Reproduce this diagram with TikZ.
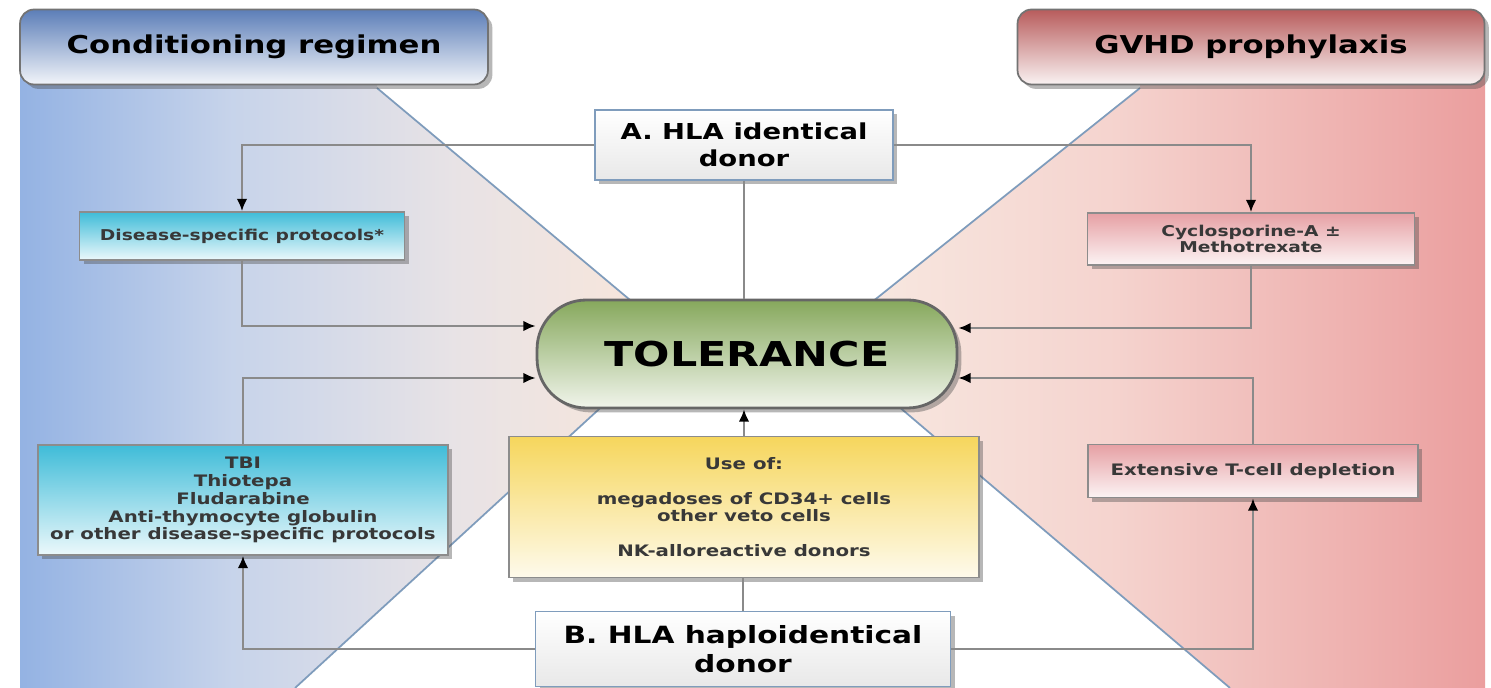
\documentclass[tikz,border=0pt]{standalone}
\usepackage{fontspec}
\setmainfont{DejaVu Sans}
\newfontfamily\widesans[FakeStretch=1.25]{DejaVu Sans}
\usetikzlibrary{positioning,calc,shadows,arrows.meta}
\definecolor{edgeblue}{HTML}{7F9CBC}
\definecolor{headblue}{HTML}{5C7EB8}
\definecolor{headred}{HTML}{B85C5C}
\definecolor{boxcyan}{HTML}{3FBCD8}
\definecolor{boxpink}{HTML}{E6A0A4}
\definecolor{boxyellow}{HTML}{F6D65C}
\definecolor{tolgreen}{HTML}{86A85C}
\definecolor{linegray}{HTML}{8A8A8A}
\pgfdeclarehorizontalshading{leftpanel}{100bp}{rgb(0bp)=(0.58,0.70,0.89); rgb(25bp)=(0.58,0.70,0.89);
  rgb(42bp)=(0.78,0.83,0.92); rgb(60bp)=(0.91,0.89,0.90); rgb(75bp)=(0.97,0.90,0.86); rgb(100bp)=(0.97,0.90,0.86)}
\pgfdeclarehorizontalshading{rightpanel}{100bp}{rgb(0bp)=(0.97,0.91,0.88); rgb(25bp)=(0.97,0.91,0.88);
  rgb(45bp)=(0.96,0.83,0.81); rgb(75bp)=(0.92,0.62,0.62); rgb(100bp)=(0.92,0.62,0.62)}
\tikzset{softshadow/.style={drop shadow={shadow xshift=2.5pt,shadow yshift=-2.5pt,opacity=.4,fill=black!70}},
         header/.style={draw=black!55,line width=1pt,rounded corners=8pt,minimum height=1.5cm,inner sep=0pt,
                        font=\widesans\bfseries\fontsize{14}{16}\selectfont,softshadow},
         donor/.style={draw=edgeblue,line width=1pt,top color=white,bottom color=black!9,inner sep=0pt,align=center,
                       font=\widesans\bfseries\fontsize{12.5}{15.5}\selectfont,softshadow},
         smallbox/.style={draw=black!45,line width=1pt,inner sep=0pt,align=center,text=black!78,
                          font=\widesans\bfseries\fontsize{8.5}{9.6}\selectfont,softshadow},
         cyanbox/.style={smallbox,top color=boxcyan,bottom color=boxcyan!10},
         pinkbox/.style={smallbox,top color=boxpink,bottom color=boxpink!12},
         yellowbox/.style={smallbox,top color=boxyellow,bottom color=boxyellow!12},
         tolerance/.style={draw=black!60,line width=1.6pt,rounded corners=28pt,top color=tolgreen,bottom color=tolgreen!12,
                           minimum width=8.4cm,minimum height=2.16cm,inner sep=0pt,
                           font=\widesans\bfseries\fontsize{19.5}{22}\selectfont,softshadow},
         paneledge/.style={draw=edgeblue,line width=1pt},
         line/.style={draw=linegray,line width=1.2pt}
}
\tikzstyle{arrow} = [line,-{Latex[length=7pt,width=6pt,color=black]}]

\begin{document}
\begin{tikzpicture}[x=0.02cm,y=-0.02cm]

\fill[white] (0,0) rectangle (1491,688);
\useasboundingbox (0,0) rectangle (1491,688);

\shade[shading=leftpanel] (20,40) -- (377,40) -- (377,88) -- (642,310) -- (609,400) -- (295,688) -- (20,688) -- cycle;
\shade[shading=rightpanel] (1140,40) -- (1485,40) -- (1485,688) -- (1230,688) -- (891,400) -- (862,310) -- (1140,88) -- cycle;
\draw[paneledge] (377,88) -- (642,310);
\draw[paneledge] (609,400) -- (295,688);
\draw[paneledge] (1140,88) -- (862,310);
\draw[paneledge] (891,400) -- (1230,688);

\node[header,top color=headblue,bottom color=headblue!8,minimum width=9.36cm] (condhead) at (254,47) {Conditioning regimen};
\node[header,top color=headred,bottom color=headred!8,minimum width=9.34cm] (gvhdhead) at (1251,47) {GVHD prophylaxis};
\node[donor,minimum width=5.96cm,minimum height=1.4cm] (donorA) at (744,145) {A. HLA identical\\donor};
\node[cyanbox,minimum width=6.5cm,minimum height=0.96cm] (disease) at (242,236) {Disease-specific protocols*};
\node[pinkbox,minimum width=6.54cm,minimum height=1.04cm] (cyclo) at (1251,239) {Cyclosporine-A ±\\Methotrexate};
\node[tolerance] (tol) at (747,354) {TOLERANCE};
\node[cyanbox,minimum width=8.2cm,minimum height=2.2cm,font=\widesans\bfseries\fontsize{9}{10.2}\selectfont] (tbi) at (243,500)
  {TBI\\Thiotepa\\Fludarabine\\Anti-thymocyte globulin\\or other disease-specific protocols};
\node[yellowbox,minimum width=9.4cm,minimum height=2.82cm,font=\widesans\bfseries\fontsize{9}{9.8}\selectfont] (useof) at (744,507)
  {Use of:\\[10pt]megadoses of CD34+ cells\\other veto cells\\[10pt]NK-alloreactive donors};
\node[pinkbox,minimum width=6.6cm,minimum height=1.06cm,font=\widesans\bfseries\fontsize{9}{10}\selectfont] (tcell) at (1253,471) {Extensive T-cell depletion};
\node[donor,minimum width=8.3cm,minimum height=1.5cm,font=\widesans\bfseries\fontsize{13.5}{16.5}\selectfont] (donorB) at (743,649) {B. HLA haploidentical\\donor};

\draw[arrow] (donorA.west) -| (disease.north);
\draw[arrow] (donorA.east) -| (cyclo.north);
\draw[line] (donorA.south) -- (donorA.south|-tol.north);
\draw[arrow] (disease.south) |- ($(tol.west)+(0,-28)$);
\draw[arrow] (cyclo.south) |- ($(tol.east)+(0,-26)$);
\draw[arrow] (tbi.north) |- ($(tol.west)+(0,24)$);
\draw[arrow] (tcell.north) |- ($(tol.east)+(0,24)$);
\draw[arrow] (useof.north) -- (useof.north|-tol.south);
\draw[line] (donorB.north) -- (donorB.north|-useof.south);
\draw[arrow] (donorB.west) -| (tbi.south);
\draw[arrow] (donorB.east) -| (tcell.south);

\end{tikzpicture}
\end{document}
